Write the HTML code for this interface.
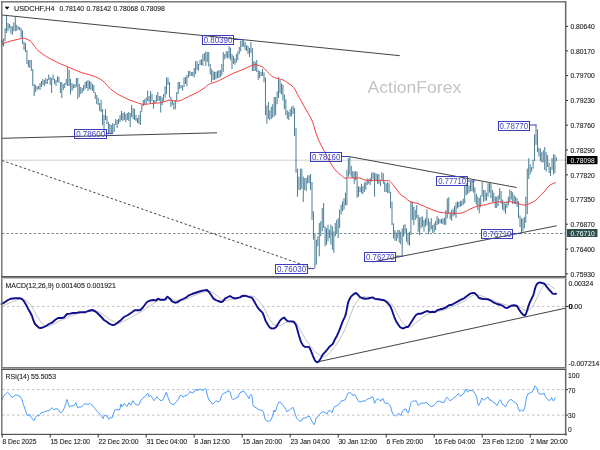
<!DOCTYPE html>
<html><head><meta charset="utf-8"><title>USDCHF H4</title>
<style>
html,body{margin:0;padding:0;background:#fff;width:600px;height:450px;overflow:hidden}
svg{display:block}
</style></head><body>
<svg width="600" height="450" viewBox="0 0 600 450" shape-rendering="auto">
<rect x="0" y="0" width="600" height="450" fill="#ffffff"/>
<text x="367.6" y="92.7" font-family="Liberation Sans, Arial, sans-serif" font-size="17.4" fill="#c3c3c3" textLength="93.6" lengthAdjust="spacingAndGlyphs">ActionForex</text>
<line x1="2" y1="160.2" x2="565" y2="160.2" stroke="#cfcfcf" stroke-width="1"/>
<line x1="2" y1="233.5" x2="565" y2="233.5" stroke="#2f4f4f" stroke-opacity="0.65" stroke-width="1" stroke-dasharray="2.5 2"/>
<line x1="2" y1="15" x2="399.8" y2="55.7" stroke="#434343" stroke-width="1"/>
<line x1="2" y1="138.3" x2="217" y2="132.8" stroke="#434343" stroke-width="1"/>
<line x1="2" y1="160.5" x2="311" y2="267.6" stroke="#434343" stroke-width="1" stroke-dasharray="2.4 2.2"/>
<line x1="347.7" y1="156.3" x2="516.7" y2="187.5" stroke="#434343" stroke-width="1"/>
<line x1="372.7" y1="262" x2="556.7" y2="225.8" stroke="#434343" stroke-width="1"/>
<path d="M2.20 40.0V45.6 M3.65 38.4V46.4 M5.11 28.0V41.0 M6.56 16.0V33.0 M8.02 23.0V31.0 M9.47 24.0V28.5 M10.93 25.6V33.6 M12.38 26.4V34.8 M13.84 22.4V31.2 M15.29 16.8V31.2 M16.74 24.8V30.8 M18.20 26.4V29.6 M19.65 26.8V30.4 M21.11 28.0V37.6 M22.56 30.4V44.0 M24.02 41.6V50.0 M25.47 43.0V52.0 M26.93 50.0V64.0 M28.38 60.0V67.0 M29.84 60.0V68.0 M31.29 60.0V71.0 M32.74 69.0V86.0 M34.20 84.0V96.0 M35.65 85.0V92.0 M37.11 86.5V90.0 M38.56 86.0V89.0 M40.02 83.0V90.0 M41.47 81.0V87.0 M42.93 79.0V85.0 M44.38 80.0V86.0 M45.84 78.0V84.0 M47.29 79.0V84.0 M48.74 74.5V80.0 M50.20 77.0V85.0 M51.65 78.0V93.0 M53.11 74.5V80.0 M54.56 79.0V84.0 M56.02 80.0V86.0 M57.47 76.0V82.0 M58.93 77.0V83.0 M60.38 82.2V93.0 M61.83 82.0V98.0 M63.29 84.0V90.0 M64.74 83.0V88.0 M66.20 79.0V85.0 M67.65 67.0V86.0 M69.11 70.0V86.0 M70.56 79.0V94.5 M72.02 83.0V91.0 M73.47 84.5V88.5 M74.93 84.0V88.0 M76.38 78.0V87.0 M77.83 78.0V99.0 M79.29 84.0V97.0 M80.74 87.0V94.0 M82.20 88.0V93.0 M83.65 85.0V91.0 M85.11 82.0V89.0 M86.56 81.0V88.0 M88.02 80.0V91.0 M89.47 81.0V89.0 M90.92 82.0V90.0 M92.38 84.0V91.0 M93.83 85.0V93.0 M95.29 92.2V99.0 M96.74 95.0V104.0 M98.20 98.0V105.0 M99.65 103.0V111.0 M101.11 100.0V112.0 M102.56 109.0V125.0 M104.01 115.0V132.0 M105.47 109.0V120.0 M106.92 116.0V124.0 M108.38 122.0V133.0 M109.83 124.0V133.0 M111.29 125.0V133.0 M112.74 123.0V133.0 M114.20 124.0V132.0 M115.65 119.0V125.0 M117.11 120.0V128.0 M118.56 119.0V124.0 M120.01 115.0V122.0 M121.47 111.0V120.0 M122.92 113.0V121.0 M124.38 112.0V120.0 M125.83 114.0V122.0 M127.29 113.0V120.0 M128.74 112.0V121.0 M130.20 113.0V127.0 M131.65 105.0V117.0 M133.10 108.0V119.0 M134.56 109.0V120.0 M136.01 115.0V121.0 M137.47 118.0V123.0 M138.92 115.0V124.0 M140.38 111.0V125.0 M141.83 105.0V111.8 M143.29 100.0V106.0 M144.74 99.0V104.5 M146.20 97.5V103.8 M147.65 90.6V101.0 M149.10 96.0V102.5 M150.56 91.0V103.0 M152.01 93.8V101.0 M153.47 100.0V108.8 M154.92 100.0V103.8 M156.38 95.0V102.0 M157.83 92.0V101.0 M159.29 96.0V101.0 M160.74 96.0V112.5 M162.19 97.5V105.0 M163.65 94.0V101.0 M165.10 86.0V97.5 M166.56 77.5V94.0 M168.01 77.5V85.0 M169.47 82.0V97.5 M170.92 96.7V107.0 M172.38 100.0V105.0 M173.83 102.5V109.4 M175.29 100.0V109.4 M176.74 92.0V101.0 M178.19 82.0V94.0 M179.65 82.0V89.0 M181.10 85.0V88.0 M182.56 85.6V90.6 M184.01 77.5V87.0 M185.47 77.0V84.0 M186.92 75.0V86.0 M188.38 71.0V78.0 M189.83 71.0V76.0 M191.28 72.0V76.0 M192.74 72.0V76.0 M194.19 68.0V77.5 M195.65 61.0V74.0 M197.10 61.0V70.0 M198.56 64.0V70.6 M200.01 60.0V65.0 M201.47 59.0V65.0 M202.92 54.0V66.0 M204.38 53.0V61.0 M205.83 51.3V66.0 M207.28 52.0V62.0 M208.74 52.0V66.4 M210.19 63.8V74.4 M211.65 69.0V82.0 M213.10 71.0V80.0 M214.56 71.8V80.0 M216.01 71.8V79.0 M217.47 70.9V78.0 M218.92 70.0V78.0 M220.37 70.0V77.0 M221.83 63.8V75.3 M223.28 52.2V71.8 M224.74 54.0V59.3 M226.19 51.3V57.6 M227.65 51.3V58.4 M229.10 46.4V58.4 M230.56 47.8V60.2 M232.01 54.0V69.1 M233.47 55.8V63.8 M234.92 58.4V64.7 M236.37 54.0V62.9 M237.83 51.3V60.2 M239.28 46.9V54.0 M240.74 40.7V51.3 M242.19 39.8V46.9 M243.65 39.8V46.9 M245.10 42.0V50.0 M246.56 45.0V51.0 M248.01 46.0V54.0 M249.46 48.0V57.0 M250.92 42.0V53.0 M252.37 48.0V71.0 M253.83 61.0V71.0 M255.28 62.0V71.0 M256.74 60.0V72.0 M258.19 70.0V80.0 M259.65 71.0V78.0 M261.10 72.0V76.0 M262.56 69.0V76.0 M264.01 72.4V82.2 M265.46 77.3V115.2 M266.92 105.5V123.8 M268.37 101.8V118.9 M269.83 110.3V120.1 M271.28 106.7V118.9 M272.74 104.2V117.7 M274.19 96.9V116.5 M275.65 96.9V115.2 M277.10 91.4V104.2 M278.55 77.3V98.1 M280.01 79.8V93.2 M281.46 83.4V94.4 M282.92 84.7V100.6 M284.37 94.4V109.1 M285.83 99.3V115.2 M287.28 110.3V118.9 M288.74 111.6V120.1 M290.19 109.1V116.5 M291.65 106.7V116.5 M293.10 105.5V114.0 M294.55 107.9V136.0 M296.01 128.0V172.7 M297.46 168.7V196.7 M298.92 176.7V190.0 M300.37 168.7V190.0 M301.83 168.7V188.7 M303.28 176.7V202.0 M304.74 178.0V190.0 M306.19 178.0V191.3 M307.64 175.3V183.3 M309.10 175.3V183.3 M310.55 174.0V190.0 M312.01 182.0V219.7 M313.46 211.3V239.7 M314.92 233.0V268.0 M316.37 239.7V264.7 M317.83 236.3V246.3 M319.28 223.0V256.3 M320.74 221.3V236.3 M322.19 208.0V231.3 M323.64 203.0V228.0 M325.10 226.3V246.3 M326.55 228.0V244.7 M328.01 224.7V241.3 M329.46 229.7V238.0 M330.92 224.7V244.7 M332.37 226.3V249.7 M333.83 231.3V253.0 M335.28 223.0V236.3 M336.73 219.7V233.0 M338.19 218.0V238.0 M339.64 209.7V228.0 M341.10 204.7V214.7 M342.55 201.3V211.3 M344.01 198.0V209.7 M345.46 192.6V205.5 M346.92 169.8V205.0 M348.37 158.1V176.8 M349.83 157.0V174.5 M351.28 165.8V176.8 M352.73 171.0V178.0 M354.19 171.6V183.8 M355.64 171.0V180.3 M357.10 171.6V197.8 M358.55 186.2V196.7 M360.01 186.9V192.1 M361.46 183.8V193.2 M362.92 186.2V194.3 M364.37 182.7V192.0 M365.82 181.5V189.7 M367.28 178.6V185.0 M368.73 179.2V183.8 M370.19 178.0V185.0 M371.64 172.8V181.5 M373.10 172.2V179.2 M374.55 172.8V196.7 M376.01 173.3V180.3 M377.46 174.0V183.8 M378.92 174.0V183.8 M380.37 180.3V186.2 M381.82 172.2V181.1 M383.28 173.3V183.8 M384.73 181.5V192.0 M386.19 183.3V192.0 M387.64 182.0V193.2 M389.10 183.0V193.0 M390.55 191.7V208.3 M392.01 201.7V225.0 M393.46 223.3V238.3 M394.91 230.0V240.8 M396.37 232.6V241.0 M397.82 230.0V238.3 M399.28 230.0V242.5 M400.73 231.7V244.2 M402.19 228.3V256.7 M403.64 225.0V236.7 M405.10 224.2V233.3 M406.55 228.3V241.7 M408.01 233.8V244.5 M409.46 231.7V245.8 M410.91 201.7V235.0 M412.37 201.7V220.0 M413.82 206.7V225.0 M415.28 210.0V220.0 M416.73 205.0V218.3 M418.19 215.0V231.7 M419.64 217.5V235.2 M421.10 216.7V228.3 M422.55 216.7V226.7 M424.00 220.0V231.7 M425.46 218.3V226.7 M426.91 209.2V225.0 M428.37 218.3V234.2 M429.82 221.7V231.7 M431.28 218.1V229.4 M432.73 225.0V233.3 M434.19 223.3V232.5 M435.64 220.8V230.0 M437.10 215.8V225.0 M438.55 218.3V224.2 M440.00 219.2V223.3 M441.46 218.9V223.6 M442.91 218.3V224.2 M444.37 217.5V225.0 M445.82 210.0V224.7 M447.28 198.3V218.3 M448.73 197.3V214.0 M450.19 212.7V219.3 M451.64 210.0V220.7 M453.09 208.7V216.5 M454.55 206.0V215.3 M456.00 202.7V218.0 M457.46 201.3V208.7 M458.91 202.0V207.3 M460.37 200.7V206.7 M461.82 200.7V206.0 M463.28 198.7V204.7 M464.73 186.0V203.3 M466.19 183.3V195.3 M467.64 186.0V194.0 M469.09 185.3V192.7 M470.55 182.0V191.3 M472.00 180.7V191.3 M473.46 180.7V192.7 M474.91 187.3V202.0 M476.37 194.0V204.7 M477.82 196.7V210.0 M479.28 198.0V213.3 M480.73 195.3V207.3 M482.18 182.0V196.7 M483.64 190.0V202.0 M485.09 190.0V200.7 M486.55 192.7V200.7 M488.00 183.3V196.7 M489.46 182.7V192.7 M490.91 183.3V198.0 M492.37 190.0V202.0 M493.82 192.7V202.0 M495.28 196.4V208.0 M496.73 196.7V208.0 M498.18 195.2V206.0 M499.64 188.0V199.6 M501.09 190.9V203.9 M502.55 199.6V209.7 M504.00 202.5V211.1 M505.46 203.9V214.0 M506.91 201.0V208.2 M508.37 196.7V205.3 M509.82 189.5V201.0 M511.27 190.9V199.6 M512.73 192.3V203.9 M514.18 195.2V203.9 M515.64 196.7V203.9 M517.09 198.1V206.8 M518.55 201.0V218.4 M520.00 215.5V227.0 M521.46 218.4V232.8 M522.91 218.4V231.4 M524.37 216.9V228.5 M525.82 196.7V222.7 M527.27 168.6V214.0 M528.73 158.2V179.0 M530.18 164.1V174.5 M531.64 167.0V171.6 M533.09 159.7V168.6 M534.55 134.4V161.2 M536.00 124.7V144.8 M537.46 129.2V152.2 M538.91 147.8V156.7 M540.36 148.5V161.2 M541.82 152.2V162.6 M543.27 150.3V162.3 M544.73 147.0V170.0 M546.18 152.2V171.6 M547.64 155.2V167.1 M549.09 162.6V173.1 M550.55 167.1V176.0 M552.00 158.2V170.0 M553.46 154.5V174.5 M554.91 154.5V173.1 M556.36 157.4V161.2" stroke="#4a7d95" stroke-width="1.0" fill="none"/>
<path d="M1.50 44.00C2.08 43.80 3.58 43.27 5.00 42.80C6.42 42.33 8.33 41.67 10.00 41.20C11.67 40.73 13.33 40.40 15.00 40.00C16.67 39.60 18.67 39.10 20.00 38.80C21.33 38.50 22.00 38.20 23.00 38.20C24.00 38.20 24.83 38.37 26.00 38.80C27.17 39.23 28.83 39.93 30.00 40.80C31.17 41.67 32.17 43.00 33.00 44.00C33.83 45.00 34.17 45.72 35.00 46.80C35.83 47.88 36.50 49.13 38.00 50.50C39.50 51.87 42.25 53.78 44.00 55.00C45.75 56.22 46.95 56.92 48.50 57.80C50.05 58.67 51.33 59.26 53.30 60.25C55.27 61.24 57.97 62.67 60.30 63.75C62.63 64.83 64.97 65.73 67.30 66.70C69.63 67.67 71.97 68.63 74.30 69.60C76.63 70.57 78.97 71.70 81.30 72.50C83.63 73.30 85.92 73.67 88.30 74.40C90.68 75.13 93.50 76.03 95.60 76.90C97.70 77.77 99.42 78.68 100.90 79.60C102.38 80.52 103.32 81.25 104.50 82.40C105.68 83.55 106.53 85.05 108.00 86.50C109.47 87.95 111.52 89.73 113.30 91.10C115.08 92.47 116.62 93.52 118.70 94.70C120.78 95.88 123.92 97.28 125.80 98.20C127.68 99.12 128.52 99.60 130.00 100.20C131.48 100.80 132.73 101.13 134.70 101.80C136.67 102.47 139.92 103.80 141.80 104.20C143.68 104.60 144.47 104.30 146.00 104.20C147.53 104.10 149.33 103.80 151.00 103.60C152.67 103.40 154.50 103.13 156.00 103.00C157.50 102.87 158.50 103.07 160.00 102.80C161.50 102.53 163.33 101.87 165.00 101.40C166.67 100.93 168.33 100.07 170.00 100.00C171.67 99.93 173.33 100.88 175.00 101.00C176.67 101.12 178.33 101.15 180.00 100.70C181.67 100.25 183.05 99.25 185.00 98.30C186.95 97.35 189.87 95.88 191.70 95.00C193.53 94.12 194.62 93.70 196.00 93.00C197.38 92.30 198.50 91.72 200.00 90.80C201.50 89.88 203.62 88.53 205.00 87.50C206.38 86.47 207.13 85.35 208.30 84.60C209.47 83.85 210.60 83.48 212.00 83.00C213.40 82.52 215.20 82.28 216.70 81.70C218.20 81.12 219.62 80.20 221.00 79.50C222.38 78.80 223.67 78.20 225.00 77.50C226.33 76.80 227.62 76.00 229.00 75.30C230.38 74.60 231.88 73.92 233.30 73.30C234.72 72.68 236.10 72.15 237.50 71.60C238.90 71.05 240.28 70.57 241.70 70.00C243.12 69.43 244.62 68.82 246.00 68.20C247.38 67.58 248.83 66.83 250.00 66.30C251.17 65.77 251.83 65.22 253.00 65.00C254.17 64.78 255.42 64.67 257.00 65.00C258.58 65.33 261.05 66.17 262.50 67.00C263.95 67.83 264.62 68.92 265.70 70.00C266.78 71.08 267.98 72.48 269.00 73.50C270.02 74.52 270.88 75.42 271.80 76.10C272.72 76.78 273.48 77.18 274.50 77.60C275.52 78.02 276.52 78.23 277.90 78.60C279.28 78.97 281.17 79.10 282.80 79.80C284.43 80.50 285.87 81.48 287.70 82.80C289.53 84.12 292.17 85.77 293.80 87.70C295.43 89.63 296.18 92.05 297.50 94.40C298.82 96.75 300.45 99.53 301.70 101.80C302.95 104.07 303.62 105.55 305.00 108.00C306.38 110.45 308.67 114.00 310.00 116.50C311.33 119.00 312.17 120.75 313.00 123.00C313.83 125.25 314.17 127.42 315.00 130.00C315.83 132.58 317.00 136.00 318.00 138.50C319.00 141.00 320.00 142.95 321.00 145.00C322.00 147.05 323.00 148.90 324.00 150.80C325.00 152.70 326.00 154.52 327.00 156.40C328.00 158.28 328.67 159.88 330.00 162.10C331.33 164.32 333.33 167.65 335.00 169.70C336.67 171.75 338.33 172.98 340.00 174.40C341.67 175.82 343.33 177.63 345.00 178.20C346.67 178.77 348.33 177.83 350.00 177.80C351.67 177.77 353.33 177.97 355.00 178.00C356.67 178.03 358.33 177.67 360.00 178.00C361.67 178.33 363.33 179.60 365.00 180.00C366.67 180.40 367.50 180.33 370.00 180.40C372.50 180.47 377.00 180.35 380.00 180.40C383.00 180.45 386.33 180.55 388.00 180.70C389.67 180.85 389.17 180.63 390.00 181.30C390.83 181.97 391.83 183.25 393.00 184.70C394.17 186.15 395.83 188.45 397.00 190.00C398.17 191.55 398.67 192.75 400.00 194.00C401.33 195.25 403.33 196.22 405.00 197.50C406.67 198.78 408.00 200.73 410.00 201.70C412.00 202.67 414.17 202.33 417.00 203.30C419.83 204.27 424.00 206.25 427.00 207.50C430.00 208.75 432.67 209.97 435.00 210.80C437.33 211.63 439.33 212.17 441.00 212.50C442.67 212.83 442.67 212.67 445.00 212.80C447.33 212.93 452.50 213.22 455.00 213.30C457.50 213.38 458.33 213.57 460.00 213.30C461.67 213.03 463.33 212.38 465.00 211.70C466.67 211.02 467.83 210.18 470.00 209.20C472.17 208.22 475.50 206.50 478.00 205.80C480.50 205.10 483.00 205.42 485.00 205.00C487.00 204.58 488.33 203.72 490.00 203.30C491.67 202.88 493.33 202.77 495.00 202.50C496.67 202.23 498.33 201.70 500.00 201.70C501.67 201.70 503.33 202.50 505.00 202.50C506.67 202.50 508.33 201.70 510.00 201.70C511.67 201.70 513.33 202.08 515.00 202.50C516.67 202.92 518.67 203.78 520.00 204.20C521.33 204.62 522.00 204.87 523.00 205.00C524.00 205.13 524.83 205.28 526.00 205.00C527.17 204.72 528.50 204.00 530.00 203.30C531.50 202.60 533.33 202.05 535.00 200.80C536.67 199.55 538.33 197.47 540.00 195.80C541.67 194.13 543.67 192.32 545.00 190.80C546.33 189.28 546.83 187.83 548.00 186.70C549.17 185.57 550.67 184.70 552.00 184.00C553.33 183.30 555.33 182.75 556.00 182.50" fill="none" stroke="#f43c3c" stroke-width="1" stroke-linejoin="round"/>
<rect x="74.5" y="129.5" width="32.0" height="9.0" fill="none" stroke="#3c3cb8" stroke-width="1"/>
<text x="76.2" y="137.3" font-family="Liberation Sans, Arial, sans-serif" font-size="8.4" fill="#4444c8" textLength="28.9" lengthAdjust="spacingAndGlyphs">0.78600</text>
<line x1="106.5" y1="133.6" x2="113" y2="133.6" stroke="#3c3cb8" stroke-width="1"/>
<rect x="202.5" y="35.5" width="31.0" height="9.0" fill="none" stroke="#3c3cb8" stroke-width="1"/>
<text x="203.7" y="43.3" font-family="Liberation Sans, Arial, sans-serif" font-size="8.4" fill="#4444c8" textLength="28.6" lengthAdjust="spacingAndGlyphs">0.80390</text>
<line x1="233.7" y1="39.5" x2="241.5" y2="39.5" stroke="#3c3cb8" stroke-width="1"/>
<rect x="310.5" y="152.5" width="31.0" height="9.0" fill="none" stroke="#3c3cb8" stroke-width="1"/>
<text x="312" y="160.3" font-family="Liberation Sans, Arial, sans-serif" font-size="8.4" fill="#4444c8" textLength="28.3" lengthAdjust="spacingAndGlyphs">0.78160</text>
<line x1="341.7" y1="156.5" x2="348.5" y2="156.5" stroke="#3c3cb8" stroke-width="1"/>
<rect x="275.5" y="264.5" width="32.0" height="9.0" fill="none" stroke="#3c3cb8" stroke-width="1"/>
<text x="277.1" y="272.3" font-family="Liberation Sans, Arial, sans-serif" font-size="8.4" fill="#4444c8" textLength="29.2" lengthAdjust="spacingAndGlyphs">0.76030</text>
<line x1="307.7" y1="268.6" x2="314.5" y2="268.6" stroke="#3c3cb8" stroke-width="1"/>
<rect x="364.5" y="252.5" width="31.0" height="9.0" fill="none" stroke="#3c3cb8" stroke-width="1"/>
<text x="366" y="260.3" font-family="Liberation Sans, Arial, sans-serif" font-size="8.4" fill="#4444c8" textLength="28.4" lengthAdjust="spacingAndGlyphs">0.76270</text>
<line x1="395.8" y1="256.2" x2="403" y2="256.2" stroke="#3c3cb8" stroke-width="1"/>
<rect x="436.5" y="176.5" width="31.0" height="9.0" fill="none" stroke="#3c3cb8" stroke-width="1"/>
<text x="438.3" y="184.3" font-family="Liberation Sans, Arial, sans-serif" font-size="8.4" fill="#4444c8" textLength="27.8" lengthAdjust="spacingAndGlyphs">0.77710</text>
<line x1="467.5" y1="181" x2="475" y2="181" stroke="#3c3cb8" stroke-width="1"/>
<rect x="481.5" y="229.5" width="31.0" height="9.0" fill="none" stroke="#3c3cb8" stroke-width="1"/>
<text x="483" y="237.3" font-family="Liberation Sans, Arial, sans-serif" font-size="8.4" fill="#4444c8" textLength="28.4" lengthAdjust="spacingAndGlyphs">0.76710</text>
<line x1="512.8" y1="233.6" x2="521.5" y2="233.6" stroke="#3c3cb8" stroke-width="1"/>
<rect x="498.5" y="121.5" width="31.0" height="9.0" fill="none" stroke="#3c3cb8" stroke-width="1"/>
<text x="499.5" y="129.3" font-family="Liberation Sans, Arial, sans-serif" font-size="8.4" fill="#4444c8" textLength="28.6" lengthAdjust="spacingAndGlyphs">0.78770</text>
<line x1="529.5" y1="125" x2="536.7" y2="125" stroke="#3c3cb8" stroke-width="1"/>
<line x1="2" y1="306.4" x2="565" y2="306.4" stroke="#c0c0c0" stroke-width="1" stroke-dasharray="2.5 2.5"/>
<line x1="318.9" y1="361.6" x2="565" y2="308.3" stroke="#434343" stroke-width="1"/>
<polyline points="1.5,306.7 5.0,305.0 10.0,302.7 15.0,300.7 20.0,299.0 24.0,299.3 28.0,302.0 31.0,305.3 34.0,310.7 37.0,316.0 40.0,320.7 43.0,324.7 46.0,326.7 50.0,326.0 55.0,323.3 60.0,320.7 65.0,318.7 70.0,316.0 75.0,314.7 80.0,312.7 93.3,311.0 98.7,311.7 104.0,315.0 109.3,319.0 114.7,322.3 118.7,323.7 124.0,321.0 130.7,317.7 137.3,313.7 142.7,311.0 148.0,307.0 153.3,303.7 158.7,300.3 165.0,299.7 170.0,299.0 175.0,300.0 180.0,300.7 185.0,300.0 190.0,297.3 195.0,295.3 200.0,293.3 205.0,291.7 210.0,291.3 214.0,293.3 218.0,296.7 222.0,300.0 225.0,300.7 230.0,299.7 235.0,298.7 245.0,296.0 252.0,296.0 255.0,297.1 258.0,300.1 262.0,304.6 265.0,309.9 268.0,316.1 271.0,321.4 274.0,325.0 278.0,326.2 282.0,325.0 285.0,322.7 289.0,321.4 293.0,320.6 296.0,322.3 299.0,327.7 302.0,333.0 305.0,338.3 310.0,345.4 315.0,351.7 320.0,355.2 323.0,357.0 326.0,356.1 330.0,352.6 335.0,346.3 340.0,339.2 345.0,329.4 350.0,316.1 354.0,306.3 357.0,301.0 360.0,297.8 364.0,296.6 368.0,297.1 372.0,297.8 378.0,298.7 385.0,299.6 390.0,302.3 393.0,305.7 396.0,311.0 399.0,317.0 402.0,322.3 405.0,325.7 408.0,327.0 411.0,326.3 414.0,324.3 418.0,321.0 422.0,317.7 426.0,315.0 430.0,313.3 435.0,312.1 440.0,311.0 445.0,309.7 450.0,307.7 455.0,305.5 460.0,303.3 465.0,300.7 470.0,296.7 475.0,294.3 480.0,295.3 485.0,297.3 490.0,299.3 495.0,301.3 500.0,303.1 505.0,304.7 510.0,306.0 515.0,306.4 518.0,306.6 521.0,307.8 524.0,309.7 527.0,311.0 529.0,309.7 531.0,308.3 533.0,306.4 535.0,301.9 537.0,297.7 539.0,293.6 541.0,289.5 543.0,286.3 545.0,284.4 547.0,284.0 549.0,284.4 551.0,286.3 553.0,287.6 555.0,289.0" fill="none" stroke="#c4c4c4" stroke-width="1" stroke-linejoin="round"/>
<polyline points="1.5,304.0 4.0,302.7 8.0,300.0 11.0,298.7 15.0,298.3 20.0,298.3 22.0,299.0 24.0,301.3 26.0,304.7 28.0,308.7 30.0,312.0 32.0,316.0 33.5,320.7 35.0,324.0 37.0,326.0 39.0,327.7 41.0,328.0 43.0,327.3 46.0,326.0 49.0,324.0 52.0,322.7 55.0,320.0 58.0,318.0 62.0,318.0 64.0,317.3 67.0,314.0 70.0,313.6 73.0,313.0 77.0,312.7 80.0,312.3 85.0,312.3 88.0,311.0 92.0,310.0 94.7,311.0 97.3,313.0 101.3,317.0 104.0,320.0 106.7,321.7 109.3,323.7 112.0,325.0 114.7,324.7 117.3,323.0 121.3,319.7 124.0,317.0 128.0,315.0 132.0,312.3 134.7,310.3 140.0,310.3 142.7,307.7 146.7,302.3 149.3,300.7 153.3,300.0 156.0,300.5 158.0,298.7 160.0,299.7 165.0,299.7 165.7,298.7 167.5,296.7 170.0,298.7 172.0,301.3 175.0,302.7 178.0,302.0 180.0,300.3 183.0,299.0 186.0,297.6 189.0,295.3 192.0,294.0 195.0,293.0 198.0,292.0 201.0,291.0 204.0,290.4 207.0,290.0 209.0,292.0 211.0,294.7 213.0,298.0 215.0,299.7 218.0,301.0 221.0,302.0 223.0,301.3 225.0,298.7 228.0,297.0 230.0,296.0 232.0,297.3 235.0,298.5 240.0,297.4 242.0,296.0 245.0,295.7 248.0,296.6 250.0,297.1 252.0,297.8 254.0,301.0 256.0,304.6 258.0,308.1 260.0,310.2 262.5,312.6 264.0,316.1 265.5,320.6 268.0,325.0 270.0,327.7 272.0,328.6 274.5,328.2 276.0,327.3 278.0,324.1 280.0,320.6 282.0,318.8 284.0,317.5 286.0,319.7 288.0,321.4 291.0,321.4 294.0,322.0 296.0,325.0 297.5,330.3 299.0,335.7 301.0,341.9 303.0,345.4 305.0,346.9 309.0,346.9 311.0,350.8 313.0,356.1 315.0,360.6 317.0,362.3 319.0,361.4 321.0,357.9 323.0,354.3 325.0,352.2 327.0,349.9 329.0,347.2 331.0,345.4 333.0,343.7 335.0,339.2 337.0,335.7 339.0,331.2 341.0,325.9 343.0,320.6 345.0,316.6 346.0,313.4 347.0,308.1 348.0,302.8 349.5,299.2 351.0,296.6 353.0,294.8 355.0,293.4 356.0,293.0 358.0,294.8 360.0,297.1 362.0,298.0 365.0,298.7 368.0,298.5 371.0,297.8 373.0,297.4 375.0,298.9 378.0,299.2 381.0,299.8 384.0,300.3 387.0,302.3 390.0,305.7 392.0,310.3 394.0,316.3 396.0,321.0 398.0,324.3 400.0,327.0 402.0,328.3 404.0,328.3 406.0,327.0 408.0,327.0 410.0,324.3 412.0,321.0 414.0,317.7 416.0,315.0 418.0,313.7 421.0,313.7 424.0,312.3 427.0,311.0 430.0,312.1 433.0,311.7 435.0,312.1 437.0,310.3 440.0,309.3 443.0,308.7 446.0,307.4 449.0,305.3 452.0,304.7 455.0,303.0 458.0,301.3 461.0,299.6 464.0,298.3 467.0,296.0 470.0,293.7 473.0,292.9 475.0,293.3 477.0,295.3 479.0,298.0 482.0,298.7 485.0,299.1 488.0,299.3 491.0,300.7 494.0,302.7 497.0,304.0 500.0,304.7 503.0,306.0 505.0,307.6 507.0,308.0 509.0,307.1 511.0,305.7 514.0,305.3 517.0,306.0 519.0,309.5 521.0,312.4 523.0,314.7 525.0,315.6 526.0,313.8 527.0,311.0 528.0,307.4 529.0,304.6 530.0,301.9 531.0,300.0 532.0,297.7 533.0,295.9 534.0,292.7 535.0,288.6 536.0,285.8 537.0,284.0 538.5,282.8 540.0,282.4 542.0,283.0 544.0,283.5 545.5,284.9 547.0,287.2 549.0,289.7 551.0,291.6 552.5,293.6 554.0,293.9 556.0,293.8" fill="none" stroke="#0e0e8e" stroke-width="1.9" stroke-linejoin="round" stroke-linecap="round"/>
<line x1="2" y1="389.6" x2="565" y2="389.6" stroke="#c0c0c0" stroke-width="1" stroke-dasharray="2.5 2.5"/>
<line x1="2" y1="415.1" x2="565" y2="415.1" stroke="#c0c0c0" stroke-width="1" stroke-dasharray="2.5 2.5"/>
<polyline points="1.5,400.5 4.0,395.5 7.5,392.3 10.0,394.7 12.0,397.6 14.0,396.2 16.0,394.7 18.0,395.7 20.0,396.2 22.0,399.8 23.5,404.8 25.0,409.2 27.0,415.0 28.5,415.7 29.5,414.0 31.0,417.1 33.0,419.7 34.0,420.7 35.5,417.1 37.0,415.7 39.0,415.7 41.0,412.8 42.0,412.1 43.0,413.1 44.5,411.4 47.0,411.1 50.0,409.9 52.0,407.7 54.0,409.9 56.0,408.5 58.0,409.2 60.0,412.1 61.0,413.1 62.5,411.4 64.5,407.7 66.0,402.7 67.0,399.5 68.0,402.7 69.5,407.3 71.0,405.6 73.0,405.9 75.0,404.5 76.0,402.7 77.0,406.0 78.0,408.0 80.0,406.7 81.0,407.3 83.0,405.1 85.0,403.7 87.0,404.3 89.0,404.0 90.0,403.3 91.0,404.4 93.0,406.0 95.0,408.7 97.0,411.3 99.0,413.1 101.0,415.3 103.0,418.7 104.0,416.0 105.0,415.3 107.0,416.0 108.0,418.0 109.0,419.3 110.5,417.3 112.0,418.0 113.0,414.7 115.0,410.0 117.0,409.3 119.0,410.4 120.0,408.7 121.0,404.0 122.0,406.7 124.0,403.7 126.0,405.3 127.0,406.4 129.0,402.7 130.5,405.3 133.0,400.7 135.0,403.7 137.0,405.1 139.0,404.7 141.0,400.0 143.0,397.7 145.0,396.7 147.0,394.0 148.0,393.3 149.0,396.7 150.5,395.3 152.0,397.3 154.0,400.7 155.0,399.3 157.0,396.7 159.0,399.3 161.0,400.7 163.0,399.7 165.0,395.3 166.0,392.3 167.0,394.0 168.0,397.3 170.0,402.7 172.0,404.3 174.0,404.4 176.0,402.0 178.0,400.0 180.0,395.7 181.5,395.3 183.0,397.1 185.0,395.7 187.0,395.3 189.0,393.3 190.0,391.3 192.0,393.1 194.0,392.0 196.0,389.1 197.0,390.7 198.5,390.0 200.0,389.1 202.0,390.0 203.0,390.7 205.0,388.3 206.0,389.3 207.5,396.0 209.0,400.0 211.0,402.0 212.5,404.3 214.5,402.7 216.5,400.7 218.0,402.0 220.0,400.7 222.0,394.7 224.0,393.3 226.0,392.3 227.0,391.7 229.0,390.9 230.0,392.0 231.0,395.3 232.0,398.7 233.0,399.7 234.5,398.7 236.0,398.7 237.0,396.7 238.0,397.3 239.0,394.7 240.0,392.7 242.0,391.7 244.0,391.3 245.5,393.3 247.0,395.3 249.0,398.7 250.0,395.7 251.0,394.4 252.0,396.0 253.0,404.7 254.0,406.9 256.0,407.7 258.0,409.3 260.0,410.4 262.0,410.0 263.5,412.0 264.5,416.7 265.5,420.0 267.0,421.1 269.0,421.3 271.0,420.0 272.5,416.0 274.0,410.0 275.0,412.0 276.0,410.0 277.5,404.7 279.0,402.0 281.0,402.7 283.0,405.3 285.0,408.0 287.0,411.7 289.0,410.4 291.0,408.7 293.0,407.3 294.0,410.0 295.5,415.3 297.0,418.7 299.0,420.7 301.0,421.3 302.0,420.0 303.0,418.0 305.0,418.0 307.0,417.1 309.0,416.0 310.0,417.3 312.0,421.3 314.0,424.7 315.0,422.7 316.0,418.0 318.0,416.7 320.0,414.0 322.0,411.7 324.0,412.0 326.0,413.3 327.0,414.0 328.5,410.9 330.0,410.4 332.0,412.7 333.0,410.0 334.0,407.3 336.0,406.0 338.0,405.3 339.0,404.0 341.0,401.1 343.0,400.7 345.0,399.7 346.5,396.7 348.0,393.3 349.0,392.7 350.5,392.7 352.0,394.7 353.0,395.3 355.0,394.7 356.0,396.7 358.0,400.7 360.0,402.0 362.0,401.3 364.0,400.7 365.0,401.6 367.0,399.3 369.0,398.7 371.0,398.0 372.5,396.3 373.5,398.7 374.5,403.3 376.0,400.5 377.5,398.5 379.0,399.7 381.0,401.1 382.0,398.9 383.0,398.7 384.5,402.7 386.0,403.3 388.0,403.3 389.5,404.7 391.0,408.0 392.0,412.0 393.5,414.4 395.5,416.0 397.0,414.7 398.5,413.3 400.0,414.4 401.0,415.7 402.0,412.0 404.0,409.3 406.0,409.1 407.0,412.0 408.5,412.7 410.0,406.7 411.0,402.7 413.0,400.7 414.5,401.3 416.0,400.7 417.0,402.7 418.0,405.3 420.0,404.0 422.0,402.9 424.0,403.3 426.0,402.4 428.0,404.0 430.0,406.0 431.5,406.7 433.0,406.0 435.0,404.4 437.0,401.6 439.0,401.1 441.0,402.0 443.0,402.7 444.5,402.0 445.5,398.7 447.0,397.1 448.5,399.3 450.0,400.7 452.0,399.5 454.0,397.6 456.0,396.3 458.0,393.7 459.0,394.3 460.5,396.3 462.0,395.0 464.0,393.0 466.0,389.0 467.5,392.1 469.0,390.7 471.0,390.3 473.0,390.7 475.0,393.7 476.5,396.3 477.5,402.3 478.5,405.7 480.0,403.0 482.0,397.9 484.0,400.3 486.0,398.3 488.0,397.0 490.0,400.6 491.0,399.7 493.0,402.3 495.0,403.0 497.0,405.7 499.0,401.7 500.5,399.7 502.0,403.7 504.0,405.0 505.5,407.0 507.0,403.7 508.5,401.0 511.0,399.3 513.0,401.0 515.0,402.6 517.0,403.9 518.5,408.9 520.0,411.5 521.5,409.9 523.0,411.2 524.5,408.9 525.5,403.4 526.5,397.0 528.0,393.8 530.0,392.9 532.0,392.0 533.5,390.1 535.0,385.8 536.5,387.4 538.0,392.0 539.5,394.3 541.0,394.1 543.0,394.1 544.0,392.9 545.5,396.6 547.0,398.7 549.0,400.5 550.5,399.8 551.5,397.5 552.5,399.6 553.5,401.1 555.0,397.8 555.5,397.5" fill="none" stroke="#4a9eff" stroke-width="1" stroke-linejoin="round"/>
<rect x="1" y="1.1" width="565" height="1.4" fill="#6e6e6e"/>
<rect x="1.1" y="1" width="1.4" height="434" fill="#6e6e6e"/>
<rect x="564.9" y="1" width="1.1" height="434.5" fill="#6a6a6a"/>
<rect x="566" y="1" width="0.9" height="434.5" fill="#b4b4b4"/>
<rect x="1" y="276" width="565" height="1" fill="#555555"/>
<rect x="1" y="277" width="565" height="1" fill="#7d7d7d"/>
<rect x="1" y="278" width="565" height="0.8" fill="#b8b8b8"/>
<rect x="1" y="367" width="565" height="1" fill="#7a7a7a"/>
<rect x="1" y="368" width="565" height="1" fill="#a0a0a0"/>
<rect x="1" y="369" width="565" height="1" fill="#555555"/>
<rect x="1" y="433.8" width="566" height="1.2" fill="#555555"/>
<path d="M4.6 6.8 L9.6 6.8 L7.1 9.4 Z" fill="#000"/>
<text x="14" y="10.6" font-family="Liberation Sans, Arial, sans-serif" stroke="#383838" stroke-width="0.15" font-size="7.9" fill="#1a1a1a" textLength="40.4" lengthAdjust="spacingAndGlyphs">USDCHF,H4</text>
<text x="59.6" y="10.6" font-family="Liberation Sans, Arial, sans-serif" stroke="#383838" stroke-width="0.15" font-size="7.9" fill="#1a1a1a" textLength="24.5" lengthAdjust="spacingAndGlyphs">0.78140</text>
<text x="86.6" y="10.6" font-family="Liberation Sans, Arial, sans-serif" stroke="#383838" stroke-width="0.15" font-size="7.9" fill="#1a1a1a" textLength="24.5" lengthAdjust="spacingAndGlyphs">0.78142</text>
<text x="113.6" y="10.6" font-family="Liberation Sans, Arial, sans-serif" stroke="#383838" stroke-width="0.15" font-size="7.9" fill="#1a1a1a" textLength="24.5" lengthAdjust="spacingAndGlyphs">0.78068</text>
<text x="140.4" y="10.6" font-family="Liberation Sans, Arial, sans-serif" stroke="#383838" stroke-width="0.15" font-size="7.9" fill="#1a1a1a" textLength="24.5" lengthAdjust="spacingAndGlyphs">0.78098</text>
<line x1="566" y1="26.4" x2="568" y2="26.4" stroke="#333" stroke-width="1"/>
<text x="570.4" y="29.2" font-family="Liberation Sans, Arial, sans-serif" stroke="#383838" stroke-width="0.15" font-size="7.9" fill="#1a1a1a" textLength="24.4" lengthAdjust="spacingAndGlyphs">0.80640</text>
<line x1="566" y1="50.9" x2="568" y2="50.9" stroke="#333" stroke-width="1"/>
<text x="570.4" y="53.7" font-family="Liberation Sans, Arial, sans-serif" stroke="#383838" stroke-width="0.15" font-size="7.9" fill="#1a1a1a" textLength="24.4" lengthAdjust="spacingAndGlyphs">0.80170</text>
<line x1="566" y1="75.6" x2="568" y2="75.6" stroke="#333" stroke-width="1"/>
<text x="570.4" y="78.4" font-family="Liberation Sans, Arial, sans-serif" stroke="#383838" stroke-width="0.15" font-size="7.9" fill="#1a1a1a" textLength="24.4" lengthAdjust="spacingAndGlyphs">0.79700</text>
<line x1="566" y1="100.5" x2="568" y2="100.5" stroke="#333" stroke-width="1"/>
<text x="570.4" y="103.3" font-family="Liberation Sans, Arial, sans-serif" stroke="#383838" stroke-width="0.15" font-size="7.9" fill="#1a1a1a" textLength="24.4" lengthAdjust="spacingAndGlyphs">0.79230</text>
<line x1="566" y1="125.2" x2="568" y2="125.2" stroke="#333" stroke-width="1"/>
<text x="570.4" y="128.0" font-family="Liberation Sans, Arial, sans-serif" stroke="#383838" stroke-width="0.15" font-size="7.9" fill="#1a1a1a" textLength="24.4" lengthAdjust="spacingAndGlyphs">0.78760</text>
<line x1="566" y1="150.0" x2="568" y2="150.0" stroke="#333" stroke-width="1"/>
<text x="570.4" y="152.8" font-family="Liberation Sans, Arial, sans-serif" stroke="#383838" stroke-width="0.15" font-size="7.9" fill="#1a1a1a" textLength="24.4" lengthAdjust="spacingAndGlyphs">0.78290</text>
<line x1="566" y1="174.8" x2="568" y2="174.8" stroke="#333" stroke-width="1"/>
<text x="570.4" y="177.6" font-family="Liberation Sans, Arial, sans-serif" stroke="#383838" stroke-width="0.15" font-size="7.9" fill="#1a1a1a" textLength="24.4" lengthAdjust="spacingAndGlyphs">0.77820</text>
<line x1="566" y1="199.4" x2="568" y2="199.4" stroke="#333" stroke-width="1"/>
<text x="570.4" y="202.2" font-family="Liberation Sans, Arial, sans-serif" stroke="#383838" stroke-width="0.15" font-size="7.9" fill="#1a1a1a" textLength="24.4" lengthAdjust="spacingAndGlyphs">0.77350</text>
<line x1="566" y1="224.2" x2="568" y2="224.2" stroke="#333" stroke-width="1"/>
<text x="570.4" y="227.0" font-family="Liberation Sans, Arial, sans-serif" stroke="#383838" stroke-width="0.15" font-size="7.9" fill="#1a1a1a" textLength="24.4" lengthAdjust="spacingAndGlyphs">0.76870</text>
<line x1="566" y1="249.2" x2="568" y2="249.2" stroke="#333" stroke-width="1"/>
<text x="570.4" y="252.0" font-family="Liberation Sans, Arial, sans-serif" stroke="#383838" stroke-width="0.15" font-size="7.9" fill="#1a1a1a" textLength="24.4" lengthAdjust="spacingAndGlyphs">0.76400</text>
<line x1="566" y1="273.8" x2="568" y2="273.8" stroke="#333" stroke-width="1"/>
<text x="570.4" y="276.6" font-family="Liberation Sans, Arial, sans-serif" stroke="#383838" stroke-width="0.15" font-size="7.9" fill="#1a1a1a" textLength="24.4" lengthAdjust="spacingAndGlyphs">0.75930</text>
<rect x="567" y="156" width="30.5" height="8.2" fill="#000"/>
<text x="570.4" y="162.9" font-family="Liberation Sans, Arial, sans-serif" font-size="7.9" fill="#ffffff" textLength="24.4" lengthAdjust="spacingAndGlyphs">0.78098</text>
<rect x="567" y="229" width="30.5" height="8" fill="#2f4f4f"/>
<text x="570.4" y="235.8" font-family="Liberation Sans, Arial, sans-serif" font-size="7.9" fill="#ffffff" textLength="24.4" lengthAdjust="spacingAndGlyphs">0.76710</text>
<text x="568.4" y="286.2" font-family="Liberation Sans, Arial, sans-serif" stroke="#383838" stroke-width="0.15" font-size="7.9" fill="#1a1a1a" textLength="24.9" lengthAdjust="spacingAndGlyphs">0.00324</text>
<line x1="566" y1="306.5" x2="568" y2="306.5" stroke="#333" stroke-width="1"/>
<text x="568.4" y="309.3" font-family="Liberation Sans, Arial, sans-serif" stroke="#383838" stroke-width="0.15" font-size="7.9" fill="#1a1a1a" textLength="13.8" lengthAdjust="spacingAndGlyphs">0.00</text>
<text x="568.4" y="309.3" font-family="Liberation Sans, Arial, sans-serif" stroke="#383838" stroke-width="0.15" font-size="7.9" font-weight="bold" fill="#1a1a1a">0</text>
<text x="568.4" y="365.6" font-family="Liberation Sans, Arial, sans-serif" stroke="#383838" stroke-width="0.15" font-size="7.9" fill="#1a1a1a" textLength="31" lengthAdjust="spacingAndGlyphs">-0.007214</text>
<text x="5.5" y="287.8" font-family="Liberation Sans, Arial, sans-serif" stroke="#383838" stroke-width="0.15" font-size="7.9" fill="#1a1a1a" textLength="110.3" lengthAdjust="spacingAndGlyphs">MACD(12,26,9) 0.001405 0.001921</text>
<text x="568" y="377.6" font-family="Liberation Sans, Arial, sans-serif" stroke="#383838" stroke-width="0.15" font-size="7.9" fill="#1a1a1a" textLength="11.6" lengthAdjust="spacingAndGlyphs">100</text>
<text x="568" y="392.7" font-family="Liberation Sans, Arial, sans-serif" stroke="#383838" stroke-width="0.15" font-size="7.9" fill="#1a1a1a" textLength="7.3" lengthAdjust="spacingAndGlyphs">70</text>
<text x="568" y="418.1" font-family="Liberation Sans, Arial, sans-serif" stroke="#383838" stroke-width="0.15" font-size="7.9" fill="#1a1a1a" textLength="7.3" lengthAdjust="spacingAndGlyphs">30</text>
<text x="568" y="431.8" font-family="Liberation Sans, Arial, sans-serif" stroke="#383838" stroke-width="0.15" font-size="7.9" fill="#1a1a1a" textLength="3.7" lengthAdjust="spacingAndGlyphs">0</text>
<line x1="566" y1="389.6" x2="568" y2="389.6" stroke="#333" stroke-width="1"/>
<line x1="566" y1="415.1" x2="568" y2="415.1" stroke="#333" stroke-width="1"/>
<text x="5.5" y="379" font-family="Liberation Sans, Arial, sans-serif" stroke="#383838" stroke-width="0.15" font-size="7.9" fill="#1a1a1a" textLength="50.5" lengthAdjust="spacingAndGlyphs">RSI(14) 55.5053</text>
<line x1="2.2" y1="434" x2="2.2" y2="437.5" stroke="#333" stroke-width="1"/>
<text x="2.4" y="444" font-family="Liberation Sans, Arial, sans-serif" stroke="#383838" stroke-width="0.15" font-size="7.9" fill="#1a1a1a" textLength="34" lengthAdjust="spacingAndGlyphs">8 Dec 2025</text>
<line x1="50.2" y1="434" x2="50.2" y2="437.5" stroke="#333" stroke-width="1"/>
<text x="50.4" y="444" font-family="Liberation Sans, Arial, sans-serif" stroke="#383838" stroke-width="0.15" font-size="7.9" fill="#1a1a1a" textLength="39.7" lengthAdjust="spacingAndGlyphs">15 Dec 12:00</text>
<line x1="98.2" y1="434" x2="98.2" y2="437.5" stroke="#333" stroke-width="1"/>
<text x="98.4" y="444" font-family="Liberation Sans, Arial, sans-serif" stroke="#383838" stroke-width="0.15" font-size="7.9" fill="#1a1a1a" textLength="40" lengthAdjust="spacingAndGlyphs">22 Dec 20:00</text>
<line x1="146.2" y1="434" x2="146.2" y2="437.5" stroke="#333" stroke-width="1"/>
<text x="146.4" y="444" font-family="Liberation Sans, Arial, sans-serif" stroke="#383838" stroke-width="0.15" font-size="7.9" fill="#1a1a1a" textLength="40.7" lengthAdjust="spacingAndGlyphs">31 Dec 04:00</text>
<line x1="194.2" y1="434" x2="194.2" y2="437.5" stroke="#333" stroke-width="1"/>
<text x="194.4" y="444" font-family="Liberation Sans, Arial, sans-serif" stroke="#383838" stroke-width="0.15" font-size="7.9" fill="#1a1a1a" textLength="35.3" lengthAdjust="spacingAndGlyphs">8 Jan 12:00</text>
<line x1="242.2" y1="434" x2="242.2" y2="437.5" stroke="#333" stroke-width="1"/>
<text x="242.4" y="444" font-family="Liberation Sans, Arial, sans-serif" stroke="#383838" stroke-width="0.15" font-size="7.9" fill="#1a1a1a" textLength="39.7" lengthAdjust="spacingAndGlyphs">15 Jan 20:00</text>
<line x1="290.2" y1="434" x2="290.2" y2="437.5" stroke="#333" stroke-width="1"/>
<text x="290.4" y="444" font-family="Liberation Sans, Arial, sans-serif" stroke="#383838" stroke-width="0.15" font-size="7.9" fill="#1a1a1a" textLength="39.3" lengthAdjust="spacingAndGlyphs">23 Jan 04:00</text>
<line x1="338.2" y1="434" x2="338.2" y2="437.5" stroke="#333" stroke-width="1"/>
<text x="338.4" y="444" font-family="Liberation Sans, Arial, sans-serif" stroke="#383838" stroke-width="0.15" font-size="7.9" fill="#1a1a1a" textLength="38.5" lengthAdjust="spacingAndGlyphs">30 Jan 12:00</text>
<line x1="386.2" y1="434" x2="386.2" y2="437.5" stroke="#333" stroke-width="1"/>
<text x="386.4" y="444" font-family="Liberation Sans, Arial, sans-serif" stroke="#383838" stroke-width="0.15" font-size="7.9" fill="#1a1a1a" textLength="36.7" lengthAdjust="spacingAndGlyphs">6 Feb 20:00</text>
<line x1="434.2" y1="434" x2="434.2" y2="437.5" stroke="#333" stroke-width="1"/>
<text x="434.4" y="444" font-family="Liberation Sans, Arial, sans-serif" stroke="#383838" stroke-width="0.15" font-size="7.9" fill="#1a1a1a" textLength="40.7" lengthAdjust="spacingAndGlyphs">16 Feb 04:00</text>
<line x1="482.2" y1="434" x2="482.2" y2="437.5" stroke="#333" stroke-width="1"/>
<text x="482.4" y="444" font-family="Liberation Sans, Arial, sans-serif" stroke="#383838" stroke-width="0.15" font-size="7.9" fill="#1a1a1a" textLength="41.2" lengthAdjust="spacingAndGlyphs">23 Feb 12:00</text>
<line x1="530.2" y1="434" x2="530.2" y2="437.5" stroke="#333" stroke-width="1"/>
<text x="530.4" y="444" font-family="Liberation Sans, Arial, sans-serif" stroke="#383838" stroke-width="0.15" font-size="7.9" fill="#1a1a1a" textLength="37.3" lengthAdjust="spacingAndGlyphs">2 Mar 20:00</text>
</svg>
</body></html>
